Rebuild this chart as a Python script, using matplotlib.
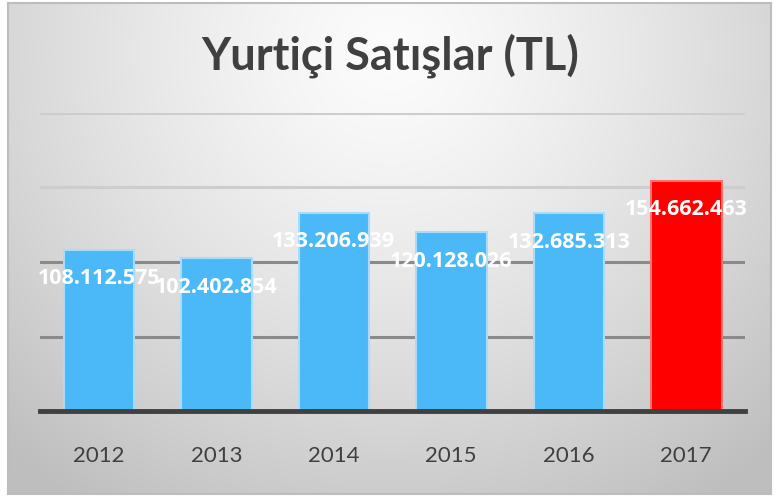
import matplotlib
matplotlib.use("Agg")
import matplotlib.pyplot as plt
import numpy as np

years = ["2012", "2013", "2014", "2015", "2016", "2017"]
sales = [108112575, 102402854, 133206939, 120128026, 132685313, 154662463]
bar_colors = ["#4bb9f7", "#4bb9f7", "#4bb9f7", "#4bb9f7", "#4bb9f7", "#ff0000"]
edge_colors = ["#a8dcfa", "#a8dcfa", "#a8dcfa", "#a8dcfa", "#a8dcfa", "#ff7070"]

W, H = 777, 499
fig = plt.figure(figsize=(W / 100, H / 100), dpi=100)
fig.patch.set_facecolor("white")

# background panel with a soft radial gradient
bx0, bx1, by0, by1 = 8, 771, 3, 494
bg = fig.add_axes([bx0 / W, 1 - by1 / H, (bx1 - bx0) / W, (by1 - by0) / H])
gx, gy = np.meshgrid(np.linspace(0, 1, 400), np.linspace(0, 1, 300))
r = np.sqrt(((gx - 0.5) / 0.75) ** 2 + ((gy - 0.1) / 1.1) ** 2)
g = 252 - 62 * np.clip(r, 0, 1) ** 1.3
img = np.dstack([g, g, g]) / 255.0
bg.imshow(img, aspect="auto", extent=[0, 1, 1, 0])
bg.set_xlim(0, 1)
bg.set_ylim(1, 0)
bg.set_xticks([])
bg.set_yticks([])
for s in bg.spines.values():
    s.set_color("#bdbdbd")
    s.set_linewidth(1.5)

# plot area
ax = fig.add_axes([40 / W, 1 - 411 / H, (745 - 40) / W, (411 - 113) / H])
ax.patch.set_alpha(0)
ax.set_xlim(-0.5, 5.5)
ax.set_ylim(0, 200000000)

for yv, col in [(50e6, "#8a8a8a"), (100e6, "#8a8a8a"), (150e6, "#cdcdcd"), (200e6, "#cdcdcd")]:
    ax.axhline(yv, color=col, lw=2.2, zorder=1)

x = np.arange(len(years))
ax.bar(x, sales, width=0.6, color=bar_colors, edgecolor=edge_colors, linewidth=1.5, zorder=2)
ax.axhline(0, color="#404040", lw=3.5, zorder=3, clip_on=False)

for xi, v in zip(x, sales):
    lbl = f"{v:,}".replace(",", ".")
    ax.annotate(lbl, (xi, v), xytext=(0, -29), textcoords="offset pixels",
                ha="center", va="center", color="white", fontsize=15.5,
                fontweight="bold", family="Open Sans", zorder=4)

ax.set_xticks(x)
ax.set_xticklabels(years, fontsize=16, color="#404040", family="Lato")
ax.tick_params(axis="x", length=0, pad=25)
ax.set_yticks([])
for s in ax.spines.values():
    s.set_visible(False)

fig.text(390 / W, 1 - 56 / H, "Yurtiçi Satışlar (TL)", ha="center", va="center",
         fontsize=32.5, fontweight="bold", color="#404040", family="Lato")

fig.savefig("out.png", dpi=100)
